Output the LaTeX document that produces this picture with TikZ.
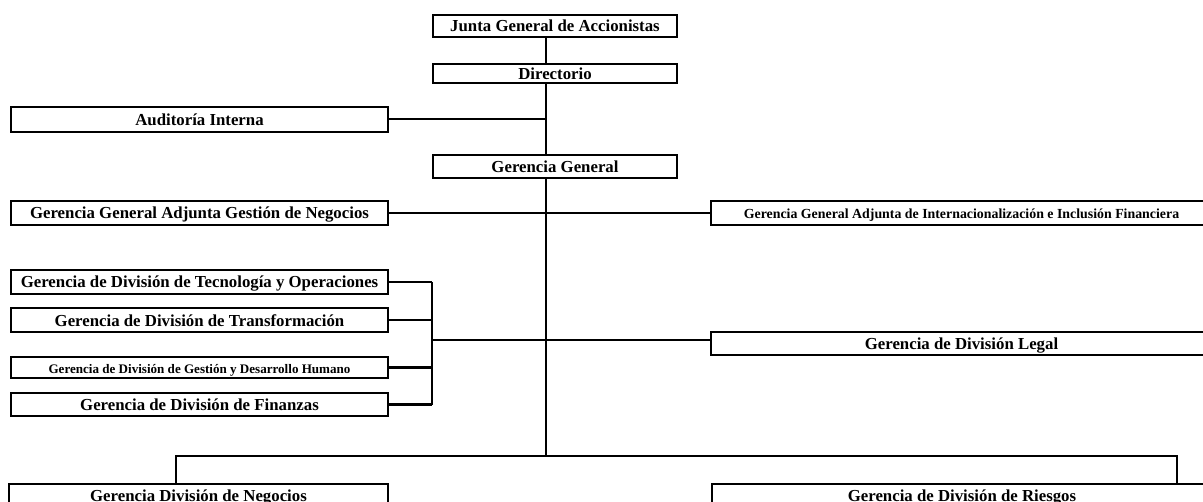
\documentclass[tikz,border=0pt]{standalone}
\usepackage{fontspec}
\setmainfont{Liberation Serif}

\tikzset{
  caja/.style 2 args={draw, line width=1.9pt, inner sep=0pt,
    minimum width=#1*0.75pt, minimum height=#2*0.75pt,
    text height=0.9em, text depth=0pt,
    font=\bfseries\fontsize{12.6}{14}\selectfont},
  linea/.style={line width=1.5pt},
}

\begin{document}
\begin{tikzpicture}[x=0.75pt,y=-0.75pt]
  \useasboundingbox (0,0) rectangle (1203,502);
  % eje central
  \coordinate (eje) at (546,0);
  \node[caja={244}{22}] (junta) at (555,26) {Junta General de Accionistas};
  \node[caja={244}{19}] (dir) at (555,73.5) {Directorio};
  \node[caja={377}{25}] (aud) at (199.5,119.5) {Auditoría Interna};
  \node[caja={244}{23}] (gg) at (555,166.5) {Gerencia General};
  \node[caja={377}{24}] (ggan) at (199.5,213) {Gerencia General Adjunta Gestión de Negocios};
  \node[caja={501}{24}, font=\bfseries\fontsize{10.4}{12}\selectfont] (ggai) at (961.5,213)
    {Gerencia General Adjunta de Internacionalización e Inclusión Financiera};
  % divisiones de apoyo
  \node[caja={377}{24}] (tec) at (199.5,282) {Gerencia de División de Tecnología y Operaciones};
  \node[caja={377}{24}] (trans) at (199.5,320) {Gerencia de División de Transformación};
  \node[caja={377}{21}, font=\bfseries\fontsize{9.8}{11}\selectfont] (gdh) at (199.5,367.5)
    {Gerencia de División de Gestión y Desarrollo Humano};
  \node[caja={377}{23}] (fin) at (199.5,404.5) {Gerencia de División de Finanzas};
  \node[caja={501}{23}] (legal) at (961.5,343.5) {Gerencia de División Legal};
  % divisiones de linea
  \node[caja={379}{23}] (neg) at (198.5,495.5) {Gerencia División de Negocios};
  \node[caja={500}{23}] (rie) at (962,495.5) {Gerencia de División de Riesgos};

  \coordinate (bneg) at (176,456);
  \coordinate (brie) at (1177,456);
  \coordinate (brk) at (432,340);

  \draw[linea] (junta.south -| eje) -- (dir.north -| eje);
  \draw[line width=2pt] (dir.south -| eje) -- (gg.north -| eje);
  \draw[linea] (aud.east) -- (aud.east -| eje);
  \draw[linea] (gg.south -| eje) -- ([yshift=-1pt]eje |- bneg);
  \draw[linea] (ggan.east) -- (ggan.east -| ggai.west);

  \foreach \n in {tec,trans,gdh,fin}
    \draw[line width=1.8pt] (\n.east) -- (\n.east -| brk);
  \draw[line width=1.8pt] (tec.east -| brk) -- (fin.east -| brk);
  \draw[linea] (brk) -- (brk -| legal.west);

  \draw[linea] (bneg |- neg.north) -- (bneg) -- (brie) -- (brie |- rie.north);
\end{tikzpicture}
\end{document}
